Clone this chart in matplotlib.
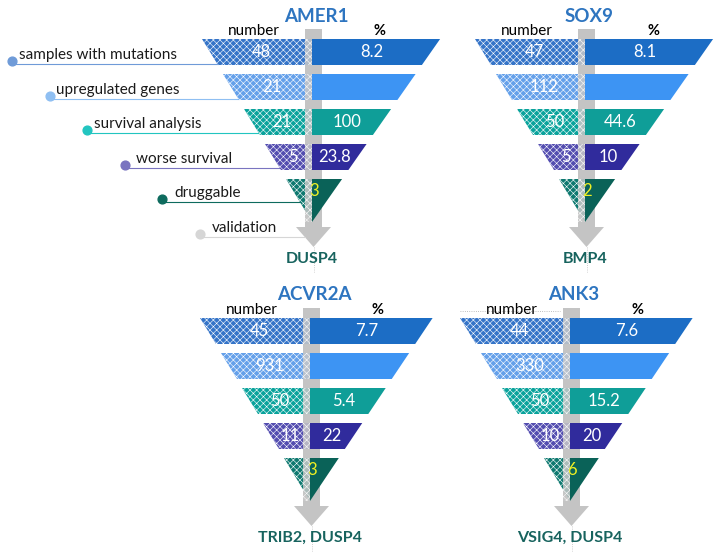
import matplotlib.pyplot as plt
from matplotlib.patches import Polygon
import numpy as np

plt.rcParams['font.family'] = ['Lato', 'DejaVu Sans']
plt.rcParams['hatch.color'] = 'white'
plt.rcParams['hatch.linewidth'] = 0.4

# donnees
genes = ["AMER1", "SOX9", "ACVR2A", "ANK3"]
numbers = [[48, 21, 21, 5, 3],
           [47, 112, 50, 5, 2],
           [45, 931, 50, 11, 3],
           [44, 330, 50, 10, 6]]
percents = [["8.2", "", "100", "23.8", ""],
            ["8.1", "", "44.6", "10", ""],
            ["7.7", "", "5.4", "22", ""],
            ["7.6", "", "15.2", "20", ""]]
targets = ["DUSP4", "BMP4", "TRIB2, DUSP4", "VSIG4, DUSP4"]
stages = ["samples with mutations", "upregulated genes", "survival analysis",
          "worse survival", "druggable", "validation"]

# couleurs des niveaux
left_cols = ['#3574c8', '#64a0ea', '#0aa39c', '#534db0', '#0e7970']
right_cols = ['#1c6dc5', '#3d94f3', '#0f9e98', '#302b9c', '#0a6258']
dot_cols = ['#6f9bd8', '#8fbff2', '#22c5c0', '#7a74c0', '#0e6b5e', '#d6d6d6']

# position des entonnoirs (x de la separation, y du haut)
origins = [(312, 39), (585, 39), (310, 318), (570, 318)]
right_k = [0.70, 0.70, 0.67, 0.67]
left_k = 0.6
step = 35
band_h = 26
apex_off = 183

fig = plt.figure(figsize=(7.2, 5.56), dpi=100)
ax = fig.add_axes([0, 0, 1, 1])
ax.set_xlim(0, 720)
ax.set_ylim(556, 0)
ax.axis('off')

for g in range(len(genes)):
    sx, ty = origins[g]
    apex = ty + apex_off
    kr = right_k[g]

    def lx(y):
        return sx - left_k * (apex - y)

    def rx(y):
        return sx + kr * (apex - y)

    # fleche grise
    ax.add_patch(Polygon([(sx - 7, ty - 10), (sx + 10, ty - 10), (sx + 10, apex + 5),
                          (sx + 19, apex + 5), (sx + 1.5, apex + 25), (sx - 16, apex + 5),
                          (sx - 7, apex + 5)], closed=True, fc='#c4c4c4', ec='none', zorder=1))
    ax.plot([sx + 1.5, sx + 1.5], [apex + 25, apex + 50], ls=':', lw=0.6, color='#bbbbbb', zorder=1)

    for i in range(5):
        y0 = ty + i * step
        y1 = apex if i == 4 else y0 + band_h
        ax.add_patch(Polygon([(lx(y0), y0), (sx, y0), (sx, y1), (lx(y1), y1)],
                             closed=True, fc=left_cols[i], ec='white', lw=0,
                             hatch='xxxxx', zorder=2))
        ax.add_patch(Polygon([(sx - 7, y0), (sx, y0), (sx, y1), (sx - 7, y1)],
                             closed=True, fc='#c8c8c8', ec='white', lw=0, hatch='xxxxx',
                             alpha=0.85, zorder=2.5))
        ax.add_patch(Polygon([(sx, y0), (rx(y0), y0), (rx(y1), y1), (sx, y1)],
                             closed=True, fc=right_cols[i], ec='none', zorder=3))
        if i < 4:
            ym = (y0 + y1) / 2
            ax.text((lx(ym) + sx) / 2, ym, str(numbers[g][i]), color='white',
                    fontsize=12, ha='center', va='center', zorder=4)
            if percents[g][i]:
                ax.text((rx(ym) + sx) / 2, ym, percents[g][i], color='white',
                        fontsize=12, ha='center', va='center', zorder=4)
        else:
            ax.text(sx + 2, y0 + 12, str(numbers[g][i]), color='#eef023',
                    fontsize=12, ha='center', va='center', zorder=4)

    ax.text(sx + 4, ty - 23, genes[g], color='#2e75c0', fontsize=13.5,
            fontweight='bold', ha='center', va='center')
    ax.text(sx - 58, ty - 8, "number", fontsize=11, ha='center', va='center')
    ax.text(sx + 68, ty - 8, "%", fontsize=10.5, fontweight='bold', ha='center', va='center')
    ax.text(sx, apex + 37, targets[g], color='#17635e', fontsize=11.5,
            fontweight='bold', ha='center', va='center')

# pointilles pres de ANK3
ax.plot([460, 560], [311, 311], ls=':', lw=0.6, color='#aaaaaa', zorder=0)

# legendes des etapes (a gauche du premier entonnoir)
sx, ty = origins[0]
apex = ty + apex_off
for i, name in enumerate(stages):
    ly = 64 + 34.6 * i
    dx = 12 + 37.5 * i
    if i < 4:
        xend = sx - left_k * (apex - (ty + i * step + band_h))
    elif i == 4:
        xend = sx - left_k * (apex - ly)
    else:
        xend = sx - 7
    ax.plot([dx, xend], [ly, ly], color=dot_cols[i], lw=0.8, zorder=1.5)
    ax.scatter([dx], [ly - 3], s=40, color=dot_cols[i], zorder=5)
    ax.text(dx + 7 + (5 if i >= 3 else 0), ly - 9, name, fontsize=11,
            ha='left', va='center', color='#1a1a1a')

fig.savefig('out.png', dpi=100)
